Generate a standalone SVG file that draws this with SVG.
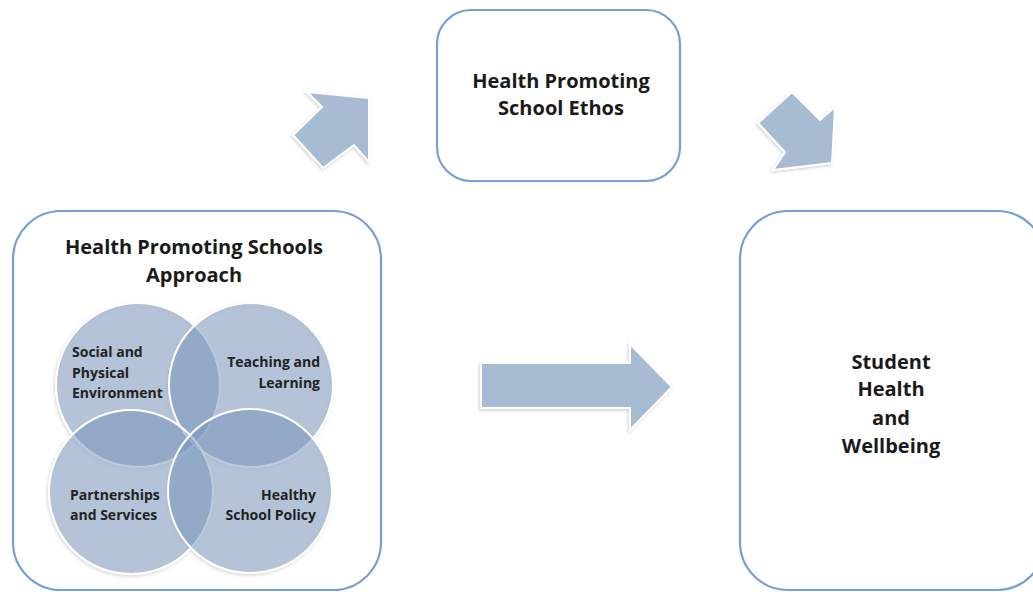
<svg xmlns="http://www.w3.org/2000/svg" width="1033" height="592" viewBox="0 0 1033 592">
  <style>
    .box { fill: #ffffff; stroke: #74a0d4; stroke-width: 2.2; }
    .title { font-family: "Open Sans", Lato, "Liberation Sans", sans-serif; font-weight: 700; font-size: 20px; fill: #1a1a1a; text-anchor: middle; }
    .lbl { font-family: "Open Sans", Lato, "Liberation Sans", sans-serif; font-weight: 700; font-size: 14px; fill: #222222; }
    .circ { fill: #7a96bd; fill-opacity: 0.5; stroke: #ffffff; stroke-width: 2; }
    .arrow { fill: #a7bbd3; stroke: #ffffff; stroke-width: 2; stroke-linejoin: miter; }
  </style>
  <defs>
    <filter id="soft" x="-20%" y="-20%" width="140%" height="140%">
      <feDropShadow dx="-1" dy="1.5" stdDeviation="1.5" flood-color="#000000" flood-opacity="0.18"/>
    </filter>
  </defs>

  <rect width="1033" height="592" fill="#ffffff"/>

  <!-- Approach box with the four overlapping areas -->
  <g id="approach">
    <rect class="box" x="13" y="211" width="368" height="379" rx="48" ry="48"/>
    <text class="title" x="194" y="254">Health Promoting Schools</text>
    <text class="title" x="194" y="282">Approach</text>
    <g filter="url(#soft)">
      <circle class="circ" cx="138" cy="385" r="82"/>
      <circle class="circ" cx="251" cy="385" r="82"/>
      <circle class="circ" cx="131" cy="492" r="82"/>
      <circle class="circ" cx="250" cy="491" r="82"/>
    </g>
    <text class="lbl" x="72" y="357">Social and</text>
    <text class="lbl" x="72" y="378">Physical</text>
    <text class="lbl" x="72" y="398">Environment</text>
    <text class="lbl" x="320" y="367" text-anchor="end">Teaching and</text>
    <text class="lbl" x="320" y="388" text-anchor="end">Learning</text>
    <text class="lbl" x="70" y="500">Partnerships</text>
    <text class="lbl" x="70" y="520">and Services</text>
    <text class="lbl" x="316" y="500" text-anchor="end">Healthy</text>
    <text class="lbl" x="316" y="520" text-anchor="end">School Policy</text>
  </g>

  <!-- Ethos box -->
  <g id="ethos">
    <rect class="box" x="437" y="10" width="243" height="171" rx="34" ry="34"/>
    <text class="title" x="561" y="88">Health Promoting</text>
    <text class="title" x="561" y="115">School Ethos</text>
  </g>

  <!-- Outcome box -->
  <g id="outcome">
    <rect class="box" x="740" y="211" width="305" height="379" rx="48" ry="48"/>
    <text class="title" x="891" y="369">Student</text>
    <text class="title" x="891" y="396">Health</text>
    <text class="title" x="891" y="425">and</text>
    <text class="title" x="891" y="453">Wellbeing</text>
  </g>

  <!-- Block arrows between the boxes -->
  <g id="connectors" filter="url(#soft)">
    <polygon class="arrow" points="307,92 369,98 369,162 354,145 323,168 293,135 322,107"/>
    <polygon class="arrow" points="792,92 820,120 835,107 832,163 773,170 785,152 758,123"/>
    <polygon class="arrow" points="481,363 630,363 630,344 672,387 630,430 630,408 481,408"/>
  </g>
</svg>
